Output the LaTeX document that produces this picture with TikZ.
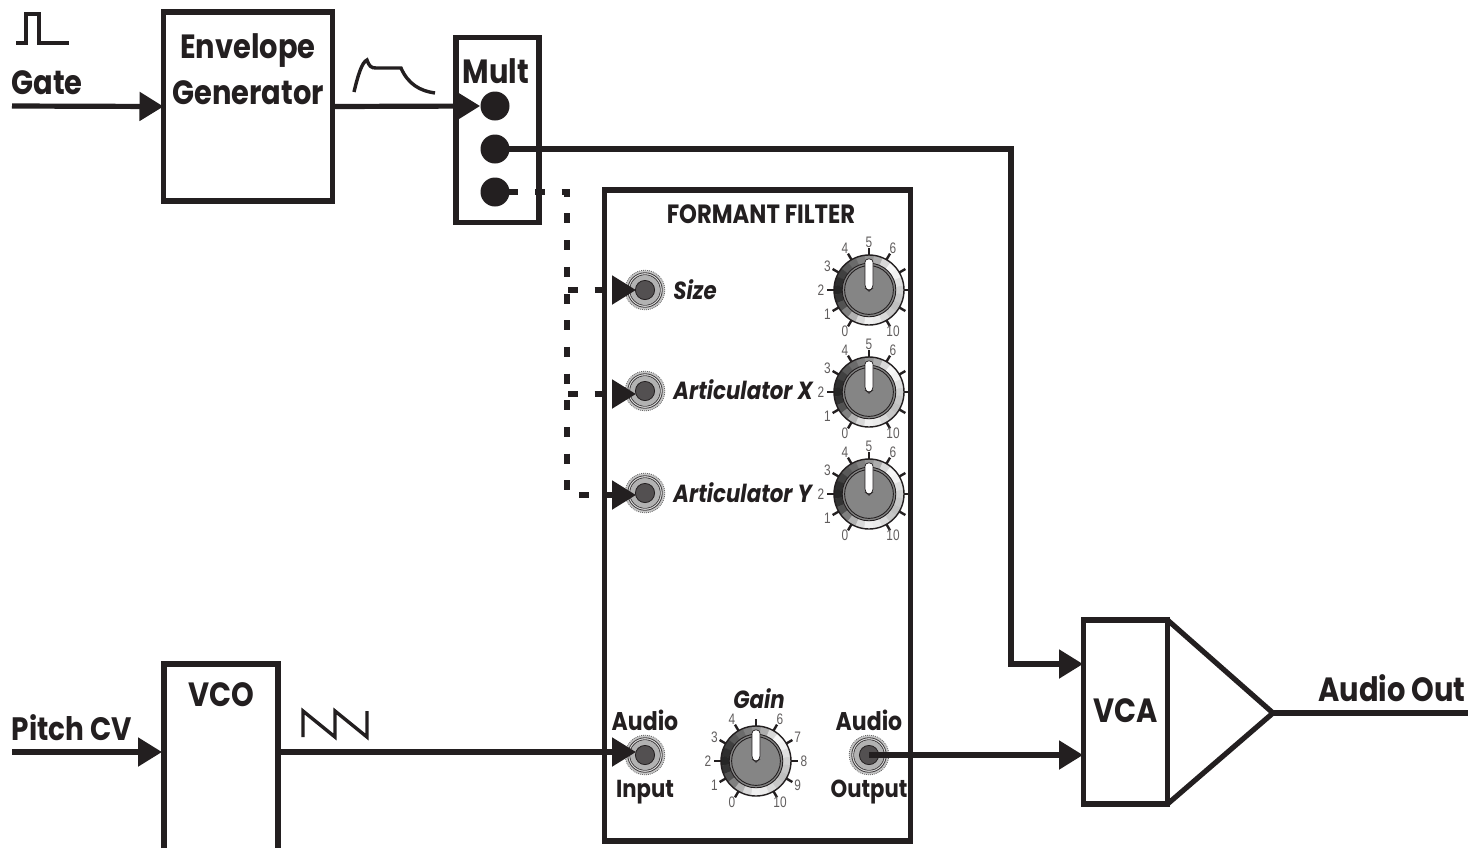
\documentclass[tikz,border=0pt]{standalone}
\usepackage{fontspec}
\setmainfont{Poppins}
\newfontfamily\labfont[FakeStretch=0.86]{Poppins}
\newfontfamily\ticfont[FakeStretch=0.78]{Liberation Sans}
\usetikzlibrary{arrows.meta,calc}
\definecolor{ink}{HTML}{231F20}
\tikzset{
  x=0.5pt,y=-0.5pt,
  box/.style={draw=ink,line width=2.6pt,fill=white,inner sep=0pt,outer sep=0pt,minimum width=#1},
  wire/.style={draw=ink,line width=2.6pt},
  wirearrow/.style={wire,-{Triangle[length=12pt,width=14pt]},shorten >=0pt},
  dwire/.style={wirearrow,dash pattern=on 5pt off 8.35pt},
  wave/.style={draw=ink,line width=1.7pt},
  lab/.style={text=ink,font=\labfont\bfseries\fontsize{16.8}{18}\selectfont,inner sep=0pt},
  sublab/.style={text=ink,font=\labfont\bfseries\fontsize{12.3}{14}\selectfont,inner sep=0pt},
  headlab/.style={text=ink,font=\labfont\bfseries\fontsize{13.2}{15}\selectfont,inner sep=0pt},
  itlab/.style={text=ink,font=\labfont\bfseries\itshape\fontsize{12.4}{14}\selectfont,inner sep=0pt},
  tic/.style={text=ink!72,font=\ticfont\fontsize{7.6}{8}\selectfont,inner sep=0pt},
  dot/.style={circle,fill=ink,minimum size=14.5pt,inner sep=0pt},
  hub/.style={circle,inner sep=0pt,minimum size=20pt},
}
\newcommand{\jackat}[3]{% name x y
  \node[hub] (#1) at (#2,#3) {};
  \fill[black!22] (#1.center) circle (9.8pt);
  \draw[black!60,line width=.4pt,dash pattern=on .5pt off .5pt] (#1.center) circle (9.9pt);
  \draw[ink!85,line width=.5pt] (#1.center) circle (8.6pt);
  \fill[black!12] (#1.center) circle (8.3pt);
  \draw[ink!85,line width=.5pt] (#1.center) circle (7.6pt);
  \fill[black!30] (#1.center) circle (7.3pt);
  \fill[ink!78] (#1.center) circle (4.8pt);
  \draw[ink,line width=.4pt] (#1.center) circle (4.8pt);
}
\newcommand{\knobat}[4]{% name x y labels(value/label)
  \node[hub,minimum size=35pt] (#1) at (#2,#3) {};
  \foreach \n in {0,...,10}{
    \draw[ink,line width=1.2pt] ($(#1.center)+({-(240-30*\n)}:34)$) -- ($(#1.center)+({-(240-30*\n)}:42)$);
  }
  \begin{scope}
    \clip (#1.center) circle (17.5pt);
    \foreach \wa/\wv in {0/18,15/12,30/5,45/3,60/15,75/32,90/42,105/50,120/58,135/65,150/75,165/82,180/85,195/80,210/68,225/50,240/30,255/15,270/6,285/8,300/15,315/22,330/25,345/22}{
      \fill[black!\wv,draw=black!\wv,line width=.2pt] (#1.center) -- ($(#1.center)+({-(\wa-7.5)}:42)$) -- ($(#1.center)+({-(\wa+7.5)}:42)$) -- cycle;
    }
  \end{scope}
  \draw[ink,line width=.7pt] (#1.center) circle (17.5pt);
  \fill[black!48] (#1.center) circle (13.4pt);
  \draw[ink,line width=.45pt] (#1.center) circle (13.4pt);
  \draw[ink,line width=.45pt] (#1.center) circle (12.2pt);
  \fill[white,draw=ink,line width=.35pt,rounded corners=1.6pt]
     ($(#1.center)+(-4,-31)$) -- ($(#1.center)+(-4,-2)$) -- ($(#1.center)+(0,1)$) -- ($(#1.center)+(4,-2)$) -- ($(#1.center)+(4,-31)$) -- cycle;
  \foreach \n/\t in {#4}{
    \node[tic] at ($(#1.center)+({-(240-30*\n)}:48)$) {\t};
  }
}
\begin{document}
\begin{tikzpicture}
\useasboundingbox (0,0) rectangle (1474,848);
\fill[white] (0,0) rectangle (1474,848);

% boxes
\node[box=169*0.5pt,minimum height=94.5pt] (eg) at (248,106.5) {};
\node[box=83*0.5pt,minimum height=92.5pt] (mult) at (497.5,130) {};
\node[box=306*0.5pt,minimum height=325.5pt] (ff) at (757.5,515.5) {};
\node[box=84*0.5pt,minimum height=92pt] (vca) at (1125.5,712) {};
\draw[wire] (164,848) -- (164,664) -- (278,664) -- (278,848);
\draw[wire,line join=miter] (vca.north east) -- (1273,713) -- (vca.south east);
\coordinate (ampTip) at (1273,713);

% labels
\node[lab] at (248,51) {Envelope};
\node[lab] at (248,93) {Generator};
\node[lab] at (47,83) {Gate};
\node[lab] at (496,71) {Mult};
\node[lab,font=\labfont\bfseries\fontsize{16.2}{18}\selectfont] at (72,728) {Pitch CV};
\node[lab] at (221,695) {VCO};
\node[lab] at (1126,711) {VCA};
\node[lab] at (1392,688) {Audio Out};
\node[headlab] at (761,214) {FORMANT FILTER};
\node[itlab,anchor=west] at (673,290) {Size};
\node[itlab,anchor=west] at (673,390) {Articulator X};
\node[itlab,anchor=west] at (673,493) {Articulator Y};
\node[itlab] at (759,699) {Gain};
\node[sublab,font=\labfont\bfseries\fontsize{12.8}{14}\selectfont] at (645,720) {Audio};
\node[sublab] at (645,792) {Input};
\node[sublab,font=\labfont\bfseries\fontsize{12.8}{14}\selectfont] at (869,720) {Audio};
\node[sublab] at (869,792) {Output};

% waveforms
\draw[wave] (16,43) -- (26,43) -- (26,14) -- (39,14) -- (39,43) -- (69,43);
\draw[wave] (354,92) .. controls (358,75) and (362,62) .. (367,60) .. controls (369,66) and (371,68) .. (376,68) -- (401,68) .. controls (408,84) and (420,91) .. (435,93);
\draw[wave] (303,737) -- (303,711) -- (335,737) -- (335,711) -- (367,737) -- (367,711);

% jacks and knobs
\jackat{jSize}{645}{290}
\jackat{jX}{645}{391}
\jackat{jY}{645}{493}
\jackat{jIn}{645}{755}
\jackat{jOut}{869}{755}
\knobat{kSize}{869}{290}{0/0,1/1,2/2,3/3,4/4,5/5,6/6,10/10}
\knobat{kX}{869}{392}{0/0,1/1,2/2,3/3,4/4,5/5,6/6,10/10}
\knobat{kY}{869}{494}{0/0,1/1,2/2,3/3,4/4,5/5,6/6,10/10}
\knobat{kGain}{756}{761}{0/0,1/1,2/2,3/3,4/4,6/6,7/7,8/8,9/9,10/10}

% mult dots
\node[dot] (d1) at (495,106) {};
\node[dot] (d2) at (495,149) {};
\node[dot] (d3) at (495,192) {};

% connector end points
\coordinate (gateIn) at (12,106);
\coordinate (pitchIn) at (12,752);
\coordinate (vcoIn) at (162,752);
\coordinate (vcoOut) at (278,752);
\coordinate (jInTip) at (636,752);
\coordinate (busTop) at (567,192);
\coordinate (busBot) at (567,495);
\coordinate (vcaA) at (1083,664);
\coordinate (vcaB) at (1083,755);
\coordinate (bend) at (1011,149);
\coordinate (bendB) at (1011,664);
\coordinate (outEnd) at (1468,713);
\coordinate (tSize) at (636,290);
\coordinate (tX) at (636,394);
\coordinate (tY) at (636,495);
\coordinate (bSize) at (567,290);
\coordinate (bX) at (567,394);

% connectors
\draw[wirearrow] (gateIn) -- (eg.west);
\draw[wirearrow] (eg.east) -- (d1.west);
\draw[wirearrow,line join=miter] (d2.center) -- (bend) -- (bendB) -- (vcaA);
\draw[wirearrow] (pitchIn) -- (vcoIn);
\draw[wirearrow] (vcoOut) -- (jInTip);
\draw[wirearrow] (jOut.center) -- (vcaB);
\draw[wire] (ampTip) -- (outEnd);
\draw[dwire,dash phase=6.7pt] (d3.center) -- (busTop) -- (busBot) -- (tY);
\draw[dwire,dash phase=12.85pt] (bSize) -- (tSize);
\draw[dwire,dash phase=12.85pt] (bX) -- (tX);
\end{tikzpicture}
\end{document}
